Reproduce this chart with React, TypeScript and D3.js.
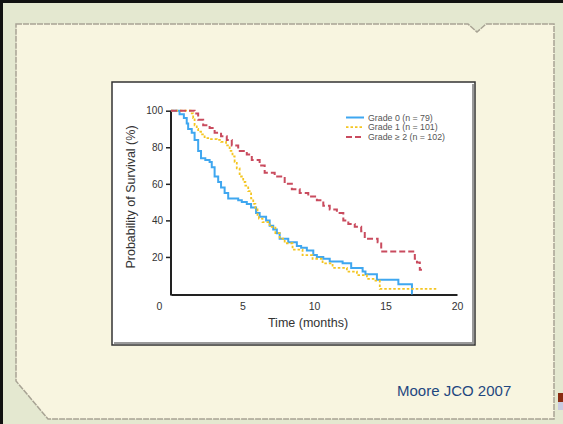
import React, { useRef, useEffect } from 'react';
import * as d3 from 'd3';

// Kaplan-Meier steps (time in months, survival in %)
const grade0Times = [0, 0.6, 0.9, 1.1, 1.2, 1.45, 1.65, 1.9, 2.1, 2.4, 2.7, 2.85, 3.05, 3.3, 3.5, 3.75, 4.0, 4.7, 4.95, 5.3, 5.6, 5.95, 6.2, 6.65, 6.9, 7.15, 7.4, 7.6, 8.2, 8.8, 9.1, 9.5, 9.95, 10.2, 10.65, 11.1, 12.0, 12.6, 13.4, 13.6, 14.4, 15.9, 16.85, 16.9];
const grade0Surv = [100, 98, 96, 93, 90, 88, 84, 78, 74, 73, 72, 69, 64, 61, 58, 55, 52, 51, 50, 49, 47, 44, 42, 40, 37, 35, 33, 30, 28, 26, 25, 23.5, 21, 20, 19, 17.5, 16.5, 14, 12, 10.5, 7.5, 5, 0, 0];

const grade1Times = [0, 1.45, 1.55, 1.65, 1.8, 1.9, 2.1, 2.35, 2.7, 3.2, 3.5, 3.85, 4.1, 4.3, 4.45, 4.6, 4.8, 5.05, 5.2, 5.4, 5.6, 5.75, 5.9, 6.05, 6.15, 6.4, 6.9, 7.3, 7.6, 7.95, 8.5, 9.2, 9.9, 10.6, 11.3, 12.3, 13.0, 13.7, 14.3, 14.6, 18.6];
const grade1Surv = [100, 98.5, 96, 92, 90, 88.5, 87, 85, 84.5, 84, 83, 81, 78, 75, 72, 68.5, 64, 61, 59, 56, 52, 49, 46, 43, 41, 39, 36.5, 33, 30, 27.5, 24, 21, 19, 16.5, 14, 12, 10, 8, 7, 2.5, 2.5];

const grade2Times = [0, 1.65, 1.9, 2.25, 2.7, 3.05, 3.5, 3.9, 4.25, 4.7, 5.3, 5.65, 6.2, 6.55, 7.25, 7.95, 8.45, 9.0, 9.6, 10.2, 10.65, 11.1, 11.6, 12.05, 12.4, 12.85, 13.3, 13.55, 14.45, 14.7, 17.05, 17.2, 17.4, 17.55];
const grade2Surv = [100, 98.5, 95, 92, 90.5, 88, 86, 84, 81, 78, 76, 73, 70, 66, 64, 60, 57, 55, 53, 51, 48, 46, 44, 40, 38, 36.5, 34, 30, 28, 23, 19, 17, 13, 13];

const legendLabels = ['Grade 0 (n = 79)', 'Grade 1 (n = 101)', 'Grade \u2265 2 (n = 102)'];
const xTicks = [0, 5, 10, 15, 20];
const yTicks = [20, 40, 60, 80, 100];

const W = 563;
const H = 424;

const App = () => {
  const svgRef = useRef<SVGSVGElement>(null);

  useEffect(() => {
    if (!svgRef.current) return;
    const svg = d3.select(svgRef.current);
    svg.selectAll('*').remove();

    // slide background
    svg.append('rect').attr('width', W).attr('height', H).attr('fill', '#e4e8d0');
    svg.append('rect').attr('width', W).attr('height', 3).attr('fill', '#111');
    svg.append('rect').attr('width', 3).attr('height', H).attr('fill', '#111');

    // beige panel with notch and cut corner
    const panel = 'M16,24 L468,24 L477,32 L486,24 L554,24 L554,419 L48,419 L16,381 Z';
    svg.append('path').attr('d', panel).attr('fill', '#f8f5e0')
      .attr('stroke', '#a8a394').attr('stroke-width', 1.5).attr('stroke-dasharray', '6 1');

    // small corner marks at right
    svg.append('rect').attr('x', 558).attr('y', 393).attr('width', 5).attr('height', 9).attr('fill', '#8a2c12');
    svg.append('rect').attr('x', 558).attr('y', 402).attr('width', 5).attr('height', 8).attr('fill', '#c9cbe0');

    // white figure box
    svg.append('rect').attr('x', 112).attr('y', 82).attr('width', 363).attr('height', 263)
      .attr('fill', '#fff').attr('stroke', '#333').attr('stroke-width', 1.5);
    svg.append('path').attr('d', 'M473,84 L473,343 L114,343')
      .attr('fill', 'none').attr('stroke', '#9a9a9a').attr('stroke-width', 2);

    const x = d3.scaleLinear().domain([0, 20]).range([171, 457]);
    const y = d3.scaleLinear().domain([0, 100]).range([293.5, 110.7]);
    const font = '"Liberation Sans", Arial, sans-serif';

    // x axis
    const gx = svg.append('g').attr('transform', 'translate(0,294.5)')
      .call(d3.axisBottom(x).tickValues(xTicks).tickSize(0).tickPadding(8).tickFormat(d3.format('d')));
    gx.select('.domain').attr('stroke', '#222').attr('stroke-width', 2);
    gx.selectAll('text').attr('font-family', font).attr('font-size', 10.5).attr('fill', '#333')
      .attr('dx', (d: any) => (d === 0 ? -12 : 0));

    // y axis
    const gy = svg.append('g').attr('transform', 'translate(171,0)')
      .call(d3.axisLeft(y).tickValues(yTicks).tickSize(5).tickSizeOuter(0).tickPadding(3));
    gy.select('.domain').attr('stroke', '#222').attr('stroke-width', 2)
      .attr('d', `M0,${y(0) + 2}V${y(100)}`);
    gy.selectAll('line').attr('stroke', '#222').attr('stroke-width', 1.5);
    gy.selectAll('text').attr('font-family', font).attr('font-size', 10).attr('fill', '#333');

    // axis titles
    svg.append('text').attr('x', 308).attr('y', 327).attr('text-anchor', 'middle')
      .attr('font-family', font).attr('font-size', 12.5).attr('fill', '#333').text('Time (months)');
    svg.append('text').attr('transform', 'translate(135,197) rotate(-90)').attr('text-anchor', 'middle')
      .attr('font-family', font).attr('font-size', 12.5).attr('fill', '#333').text('Probability of Survival (%)');

    // curves
    const series = [
      { t: grade0Times, s: grade0Surv, color: '#3fa7f0', dash: null, width: 2 },
      { t: grade1Times, s: grade1Surv, color: '#f4c521', dash: '2.5 2', width: 1.8 },
      { t: grade2Times, s: grade2Surv, color: '#c94b5e', dash: '6 3', width: 2 },
    ];
    const line = d3.line<[number, number]>()
      .x(d => x(d[0]))
      .y(d => y(d[1]))
      .curve(d3.curveStepAfter);

    series.forEach(sr => {
      const pts = sr.t.map((t, i) => [t, sr.s[i]] as [number, number]);
      const p = svg.append('path').attr('d', line(pts)).attr('fill', 'none')
        .attr('stroke', sr.color).attr('stroke-width', sr.width);
      if (sr.dash) p.attr('stroke-dasharray', sr.dash);
    });

    // legend
    const legend = svg.selectAll('.legend').data(series).enter().append('g')
      .attr('transform', (d, i) => `translate(346,${117.5 + i * 9.7})`);
    legend.append('line').attr('x1', 0).attr('x2', 18)
      .attr('stroke', d => d.color).attr('stroke-width', d => d.width)
      .attr('stroke-dasharray', d => d.dash || null);
    legend.append('text').attr('x', 22).attr('y', 3)
      .attr('font-family', font).attr('font-size', 8.8).attr('fill', '#555')
      .text((d, i) => legendLabels[i]);

    // citation
    svg.append('text').attr('x', 397).attr('y', 396)
      .attr('font-family', font).attr('font-size', 15).attr('fill', '#1f477f')
      .text('Moore JCO 2007');
  }, []);

  return (
    <div style={{ position: 'absolute', left: 0, top: 0 }}>
      <svg ref={svgRef} width={W} height={H} style={{ display: 'block' }}></svg>
    </div>
  );
};

export default App;
